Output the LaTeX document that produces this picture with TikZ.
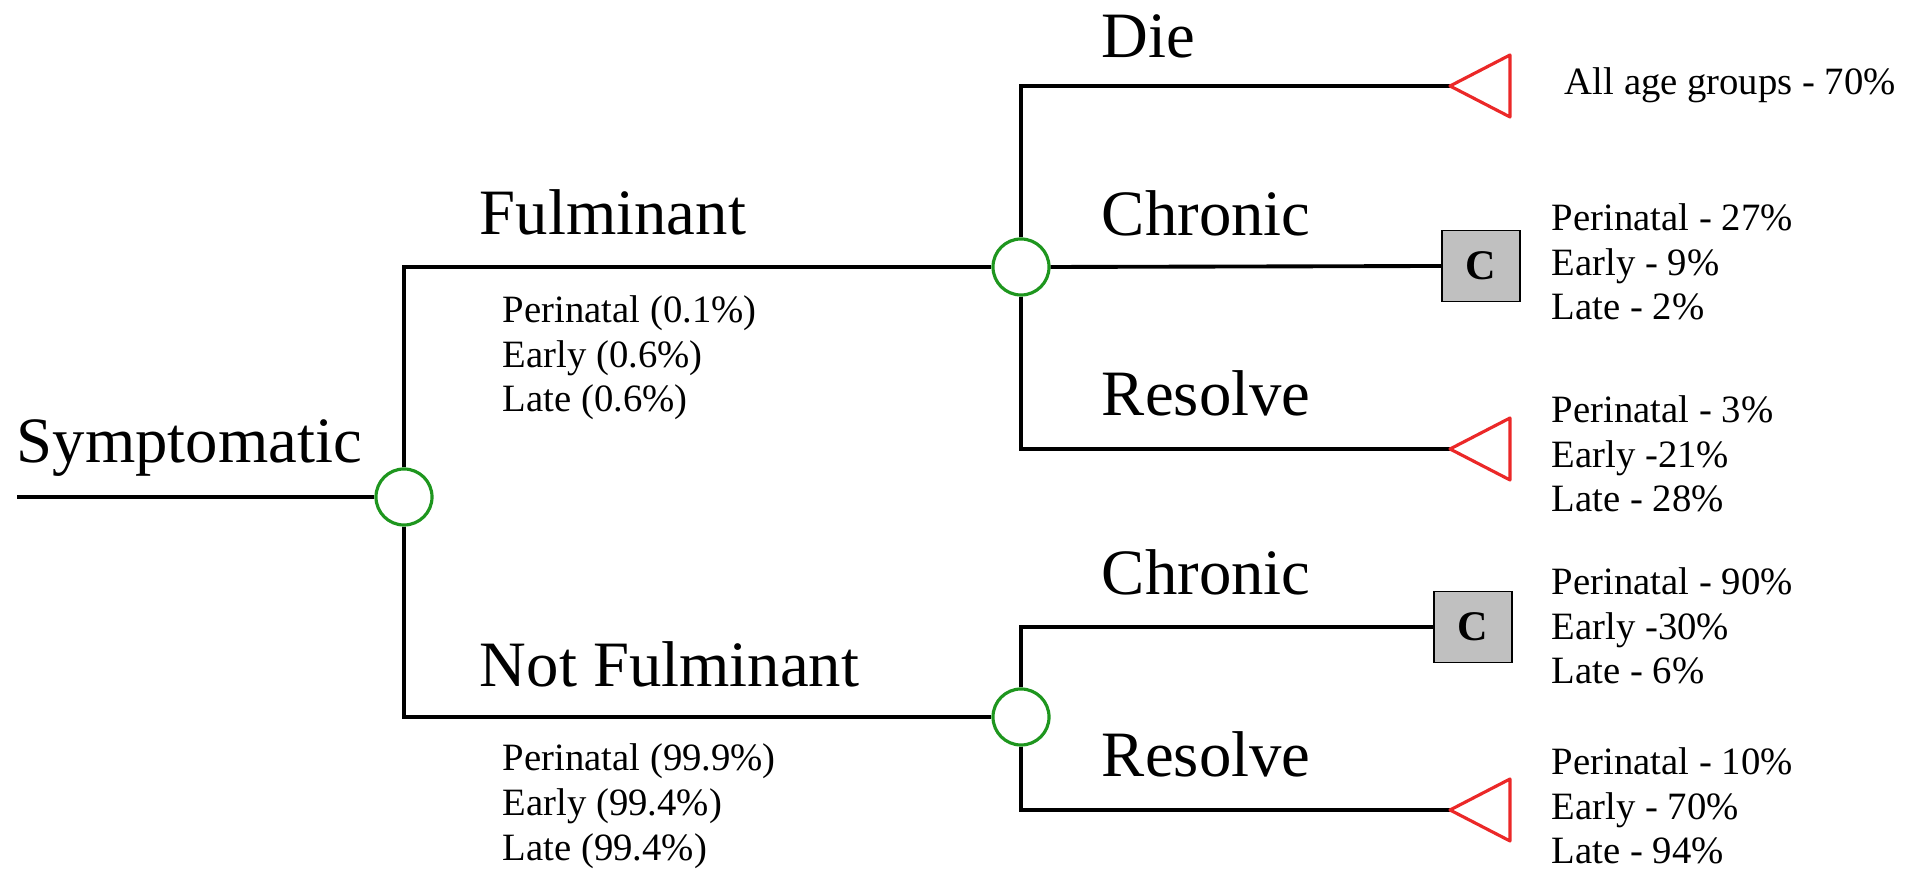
\documentclass[tikz,border=0pt]{standalone}
\usepackage{fontspec}
\setmainfont{Liberation Serif}
\usepackage{tikz}
\usetikzlibrary{positioning,calc}
\definecolor{chancegreen}{RGB}{30,150,30}
\definecolor{termred}{RGB}{235,40,40}
\definecolor{boxgray}{RGB}{192,192,192}

\begin{document}
\begin{tikzpicture}[x=0.01cm, y=-0.01cm, line width=1.1pt,
        chance/.style={circle,draw=chancegreen,line width=0.9pt,fill=white,minimum size=0.56cm,inner sep=0pt},
        cbox/.style={rectangle,draw=black,line width=0.5pt,fill=boxgray,minimum width=0.78cm,minimum height=0.71cm,font=\bfseries\fontsize{12}{14}\selectfont},
        term/.style={draw=termred,line width=0.9pt,line join=round},
        branch/.style={anchor=base west,inner sep=0pt,font=\fontsize{18.4}{20}\selectfont},
        prob/.style={anchor=base west,inner sep=0pt,align=left,font=\fontsize{11}{12.7}\selectfont}]
        \useasboundingbox (0,0) rectangle (1931,871);
        % decision tree
        \coordinate (start) at (17,497);
        \node[chance] at (404,497) (c1) {};
        \node[chance] at (1021,267) (c2) {};
        \node[chance] at (1021,717) (c3) {};
        \node[cbox] at (1481,266) (cb1) {C};
        \node[cbox] at (1473,627) (cb2) {C};
        \coordinate (td) at (1450,86);
        \coordinate (tr1) at (1450,449);
        \coordinate (tr2) at (1450,810);
        \draw (start) to (c1);
        \draw (c1.north) |- (c2.west);
        \draw (c1.south) |- (c3.west);
        \draw (c2.north) |- (td);
        \draw (c2.east) to (cb1.west);
        \draw (c2.south) |- (tr1);
        \draw (c3.north) |- (cb2.west);
        \draw (c3.south) |- (tr2);
        \foreach \t in {td,tr1,tr2}
          \draw[term] (\t) -- ++(60,-31) -- ++(0,62) -- cycle;
        % labels (multi-line ones sit on their last line)
        \node[branch] at (15,463) (symp) {Symptomatic};
        \node[branch] at (478,235) (fulm) {Fulminant};
        \node[branch] at (478,687) (notfulm) {Not Fulminant};
        \node[branch] at (1100,58) (die) {Die};
        \node[branch] at (1100,236) (chron1) {Chronic};
        \node[branch] at (1100,416) (res1) {Resolve};
        \node[branch] at (1100,595) (chron2) {Chronic};
        \node[branch] at (1100,777) (res2) {Resolve};
        \node[prob] at (501,412) (pfulm) {Perinatal (0.1\%)\\Early (0.6\%)\\Late (0.6\%)};
        \node[prob] at (501,860) (pnot) {Perinatal (99.9\%)\\Early (99.4\%)\\Late (99.4\%)};
        \node[prob] at (1563,95) (pdie) {All age groups - 70\%};
        \node[prob] at (1550,320) (pchron1) {Perinatal - 27\%\\Early - 9\%\\Late - 2\%};
        \node[prob] at (1550,512) (pres1) {Perinatal - 3\%\\Early -21\%\\Late - 28\%};
        \node[prob] at (1550,684) (pchron2) {Perinatal - 90\%\\Early -30\%\\Late - 6\%};
        \node[prob] at (1550,864) (pres2) {Perinatal - 10\%\\Early - 70\%\\Late - 94\%};
      \end{tikzpicture}
\end{document}
